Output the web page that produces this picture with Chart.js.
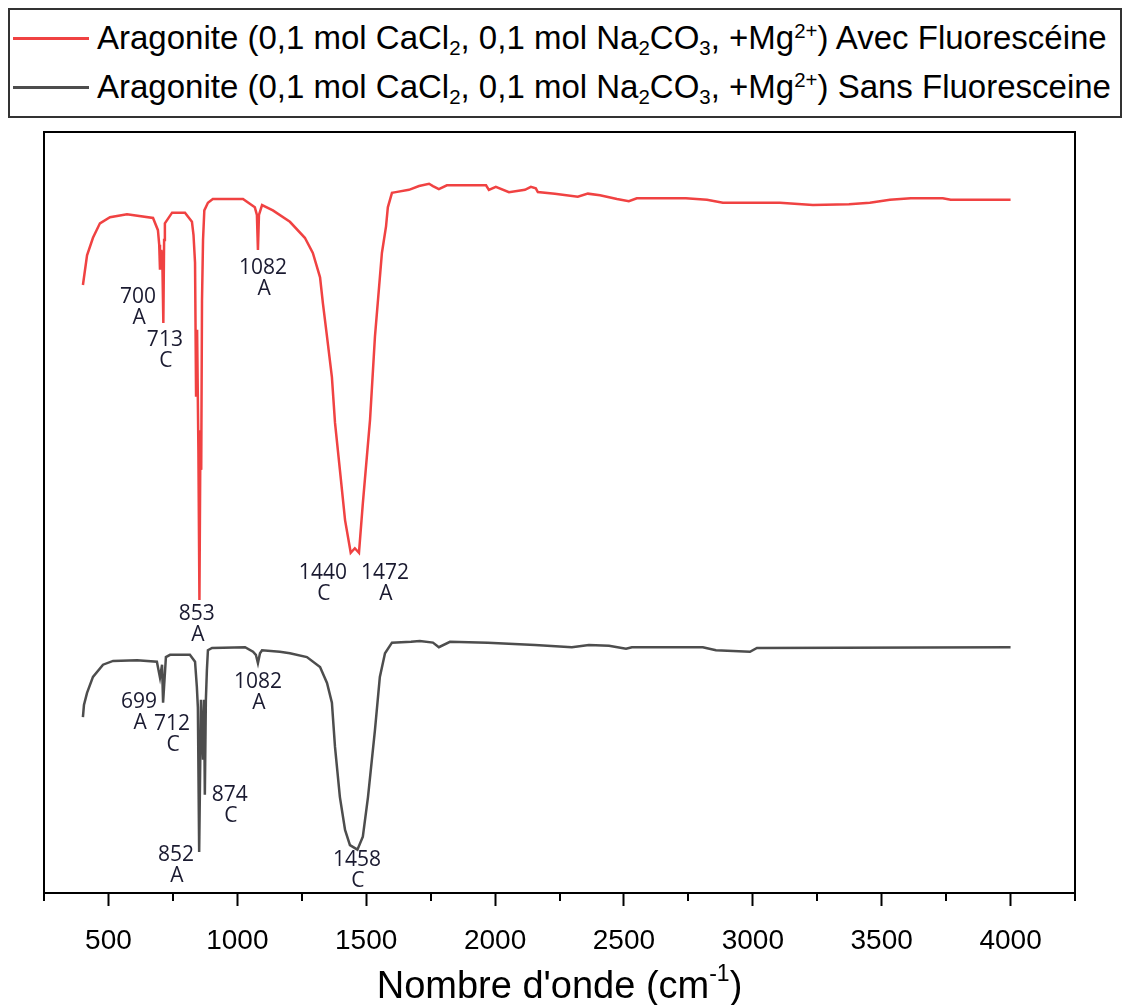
<!DOCTYPE html>
<html>
<head>
<meta charset="utf-8">
<script src="https://cdn.jsdelivr.net/npm/chart.js@4.4.1/dist/chart.umd.min.js"></script>
<style>
  html, body { margin: 0; padding: 0; background: #fff; }
  #wrap { position: relative; width: 1126px; height: 1005px; }
  #chart { position: absolute; left: 0; top: 0; }
  #legend {
    position: absolute; left: 8px; top: 8px; width: 1114px; height: 110px;
    border: 2px solid #333; box-sizing: border-box; background: #fff;
    font-family: "Liberation Sans", Arial, sans-serif; font-size: 33px; color: #000;
  }
  #legend .row { position: absolute; left: 0; height: 40px; line-height: 40px; white-space: nowrap; }
  #legend .sw { position: absolute; left: 3px; top: 19px; width: 76px; height: 3px; }
  #legend .txt { position: absolute; left: 87px; top: 0; }
  #legend sub, #legend sup { font-size: 0.62em; line-height: 0; }
  #legend sub { vertical-align: -0.3em; }
  #legend sup { vertical-align: 0.55em; }
</style>
</head>
<body>
<div id="wrap">
  <canvas id="chart" width="1126" height="1005"></canvas>
  <div id="legend"></div>
</div>
<script>
// FTIR spectra, two aragonite samples (transmittance in arbitrary units, offset)
const RED = '#f04242';
const GREY = '#4d4d4d';

const avecWn = [401, 417, 440, 467, 506, 572, 673, 692, 697, 700, 705, 709, 713, 716, 719, 747, 797, 824, 830, 836, 840, 844, 849, 853, 857, 860, 863, 867, 872, 886, 905, 1022, 1068, 1076, 1080, 1084, 1096, 1138, 1204, 1262, 1293, 1321, 1332, 1348, 1367, 1379, 1398, 1418, 1440, 1456, 1472, 1487, 1515, 1534, 1561, 1577, 1584, 1600, 1615, 1666, 1705, 1744, 1759, 1782, 1813, 1965, 1976, 2003, 2054, 2116, 2139, 2158, 2166, 2232, 2321, 2360, 2407, 2473, 2519, 2550, 2740, 2822, 2884, 3012, 3105, 3233, 3373, 3454, 3532, 3613, 3737, 3768, 4000];
const avecT = [79.9, 83.8, 86.1, 88.0, 88.8, 89.2, 88.7, 87.1, 85.2, 81.9, 84.5, 83.4, 74.9, 85.8, 88.0, 89.4, 89.4, 88.2, 86.5, 82.8, 65.2, 74.0, 58.2, 38.5, 60.8, 55.6, 77.9, 85.8, 89.7, 90.7, 91.2, 91.2, 90.1, 89.1, 84.5, 89.1, 90.4, 89.7, 88.2, 86.1, 84.1, 80.9, 77.5, 73.1, 67.8, 61.8, 55.6, 49.0, 44.7, 45.3, 44.7, 51.2, 62.2, 73.1, 84.1, 87.6, 90.1, 92.0, 92.1, 92.4, 92.9, 93.2, 92.9, 92.5, 93.0, 93.0, 92.4, 92.8, 92.1, 92.4, 92.8, 92.6, 92.1, 91.9, 91.5, 91.9, 91.7, 91.2, 90.9, 91.3, 91.3, 91.1, 90.7, 90.7, 90.7, 90.4, 90.5, 90.7, 91.1, 91.3, 91.3, 91.1, 91.1];

const sansWn = [401, 405, 417, 440, 479, 518, 611, 688, 700, 708, 712, 723, 739, 816, 836, 843, 847, 852, 859, 867, 871, 874, 878, 882, 886, 902, 1030, 1061, 1072, 1080, 1088, 1096, 1165, 1204, 1270, 1321, 1348, 1367, 1379, 1398, 1418, 1437, 1466, 1487, 1507, 1534, 1553, 1573, 1600, 1674, 1708, 1759, 1782, 1825, 1972, 2155, 2298, 2364, 2442, 2508, 2531, 2806, 2857, 2989, 3016, 4000];
const sansT = [23.1, 24.7, 26.3, 28.4, 30.0, 30.5, 30.6, 30.4, 28.3, 30.0, 25.0, 31.0, 31.3, 31.3, 30.4, 27.1, 24.4, 5.4, 25.4, 17.5, 25.4, 12.9, 25.4, 29.3, 31.9, 32.2, 32.3, 31.7, 31.3, 30.2, 31.5, 31.9, 31.7, 31.5, 31.0, 29.7, 27.6, 25.0, 19.2, 12.6, 8.3, 6.3, 5.7, 7.4, 12.6, 21.4, 28.4, 31.5, 32.9, 33.0, 33.1, 32.9, 32.3, 33.0, 32.9, 32.6, 32.3, 32.6, 32.5, 32.1, 32.3, 32.3, 31.9, 31.7, 32.2, 32.3];

const majorTicks = [500, 1000, 1500, 2000, 2500, 3000, 3500, 4000];
const minorTicks = [250, 750, 1250, 1750, 2250, 2750, 3250, 3750, 4250];

// peak labels: [wavenumber, transmittance] of the first text line, then the two lines
const avecPeaks = [
  [615, 78.3, '700', 'A'],
  [719, 72.7, '713', 'C'],
  [1100, 82.1, '1082', 'A'],
  [1332, 42.0, '1440', 'C'],
  [1573, 42.0, '1472', 'A'],
  [843, 36.7, '853', 'A']
];
const sansPeaks = [
  [619, 25.1, '699', 'A'],
  [747, 22.2, '712', 'C'],
  [1080, 27.7, '1082', 'A'],
  [971, 12.9, '874', 'C'],
  [762, 5.0, '852', 'A'],
  [1464, 4.3, '1458', 'C']
];

const legendItems = [
  { color: RED, html: 'Aragonite (0,1 mol CaCl<sub>2</sub>, 0,1 mol Na<sub>2</sub>CO<sub>3</sub>, +Mg<sup>2+</sup>) Avec Fluorescéine' },
  { color: GREY, html: 'Aragonite (0,1 mol CaCl<sub>2</sub>, 0,1 mol Na<sub>2</sub>CO<sub>3</sub>, +Mg<sup>2+</sup>) Sans Fluoresceine' }
];

function toPoints(xs, ys) {
  return xs.map((x, i) => ({ x, y: ys[i] }));
}

// legend as html so sub/superscripts render
const legendEl = document.getElementById('legend');
legendItems.forEach((item, i) => {
  const row = document.createElement('div');
  row.className = 'row';
  row.style.top = (i === 0 ? 8 : 57) + 'px';
  row.innerHTML = '<span class="sw" style="background:' + item.color + '"></span><span class="txt">' + item.html + '</span>';
  legendEl.appendChild(row);
});

const framePlugin = {
  id: 'frame',
  afterDraw(chart) {
    const { ctx, chartArea: a, scales } = chart;
    const xs = scales.x;
    ctx.save();
    ctx.strokeStyle = '#000';
    ctx.lineWidth = 2;
    ctx.strokeRect(a.left, a.top, a.right - a.left, a.bottom - a.top);
    // minor ticks
    minorTicks.forEach((v) => {
      const px = Math.round(xs.getPixelForValue(v));
      ctx.beginPath();
      ctx.moveTo(px, a.bottom);
      ctx.lineTo(px, a.bottom + 8);
      ctx.stroke();
    });
    // axis title with superscript
    ctx.fillStyle = '#000';
    ctx.textBaseline = 'alphabetic';
    const big = '38px "Liberation Sans", Arial, sans-serif';
    const small = '23px "Liberation Sans", Arial, sans-serif';
    const p1 = "Nombre d'onde (cm", p2 = '-1', p3 = ')';
    ctx.font = big; const w1 = ctx.measureText(p1).width, w3 = ctx.measureText(p3).width;
    ctx.font = small; const w2 = ctx.measureText(p2).width;
    let x = (a.left + a.right) / 2 - (w1 + w2 + w3) / 2;
    const base = 998;
    ctx.font = big; ctx.textAlign = 'left'; ctx.fillText(p1, x, base); x += w1;
    ctx.font = small; ctx.fillText(p2, x, base - 17); x += w2;
    ctx.font = big; ctx.fillText(p3, x, base);
    // peak labels
    ctx.font = '21px "Open Sans", "Noto Sans", sans-serif';
    ctx.fillStyle = '#1a1a30';
    ctx.textAlign = 'center';
    ctx.textBaseline = 'middle';
    avecPeaks.concat(sansPeaks).forEach(([wn, t, l1, l2]) => {
      const px = xs.getPixelForValue(wn);
      const py = scales.y.getPixelForValue(t);
      ctx.fillText(l1, px, py);
      ctx.fillText(l2, px + 1, py + 21);
    });
    ctx.restore();
  }
};

new Chart(document.getElementById('chart'), {
  type: 'line',
  data: {
    datasets: [
      { label: 'Avec Fluorescéine', data: toPoints(avecWn, avecT), borderColor: RED, borderWidth: 2.5, pointRadius: 0, tension: 0, fill: false },
      { label: 'Sans Fluoresceine', data: toPoints(sansWn, sansT), borderColor: GREY, borderWidth: 2.5, pointRadius: 0, tension: 0, fill: false }
    ]
  },
  options: {
    responsive: false,
    animation: false,
    devicePixelRatio: 1,
    layout: { padding: { left: 44, top: 132, right: 51, bottom: 0 } },
    plugins: { legend: { display: false }, tooltip: { enabled: false } },
    scales: {
      x: {
        type: 'linear',
        min: 250,
        max: 4250,
        afterBuildTicks(scale) { scale.ticks = majorTicks.map((v) => ({ value: v })); },
        afterFit(scale) { scale.height = 112; },
        border: { display: true, color: '#000', width: 2 },
        grid: { drawOnChartArea: false, drawTicks: true, tickLength: 13, tickWidth: 2, tickColor: '#000' },
        ticks: {
          autoSkip: false,
          maxRotation: 0,
          padding: 18,
          color: '#000',
          font: { family: '"Liberation Sans", Arial, sans-serif', size: 28 },
          callback: (v) => String(v)
        }
      },
      y: { display: false, min: 0, max: 100 }
    }
  },
  plugins: [framePlugin]
});
</script>
</body>
</html>
